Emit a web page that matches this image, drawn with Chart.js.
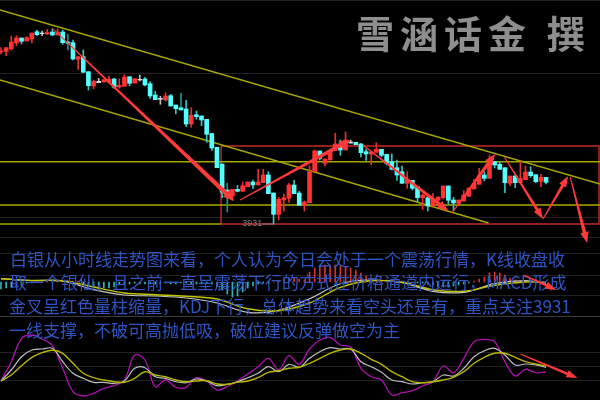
<!DOCTYPE html>
<html><head><meta charset="utf-8">
<style>html,body{margin:0;padding:0;background:#000}canvas{display:block}</style>
<script src="https://cdn.jsdelivr.net/npm/chart.js@4"></script></head>
<body><canvas id="c" width="600" height="400"></canvas>
<script>
const opens=[4103,4103.7,4106,4112,4117,4114,4116,4123.3,4122,4121,4123,4120,4123,4113,4112.3,4095.7,4098.3,4083.3,4069,4073.7,4073,4073,4076,4068,4068.7,4078.3,4072,4075.7,4076,4071.3,4060,4056.7,4055,4059.3,4050,4047.3,4046,4031,4040.3,4039,4035.7,4021.5,4007.7,3991,3965,3959,3965.7,3963.7,3968.3,3973,3970,3972.3,3980,3962,3940.7,3955,3956.7,3970,3962,3949.7,3952.3,3983.3,4004,3991.7,3995,4004.3,4011,4005,4013,4012.7,4011,4003.3,4001,4002.7,4005.7,4000.7,3993.3,3987.3,3983.3,3971.7,3974.7,3968.3,3957.3,3957.3,3949,3954.7,3957.3,3969,3955,3951.7,3954,3958.7,3966,3970.7,3980,3976.7,3993.3,3990.7,3987.3,3971.7,3979,3972.3,3975.3,3983,3980.3,3973.7,3977.7];
const closes=[4104,4107.3,4113,4117,4113.7,4117.3,4122,4120.3,4121.3,4122.5,4120,4123,4112.3,4111.7,4096,4098.3,4082.7,4069.3,4073.7,4072.3,4075.3,4075.7,4067.7,4069.7,4078,4071.7,4076.3,4075,4070,4059,4055.3,4055.7,4059,4049,4046.3,4045,4031,4039.7,4038.3,4035,4020.7,4007,3987.3,3962.7,3960,3965.7,3963.7,3969.3,3973,3970,3973,3980,3961.3,3940.7,3955.7,3957.3,3970,3961.3,3949.7,3953,3983.3,4004,3996.7,3996,4004.7,4011,4005,4015,4012,4010.3,4002.3,4001,4003,4005.7,3999.7,3991.7,3985.7,3980,3971.7,3975,3966.7,3957.3,3960,3949,3956,3958,3969,3954.7,3952,3955,3960,3967,3971.7,3979.3,3976.7,3993.3,3990,3985.7,3972.3,3979,3972.3,3976.7,3983,3979.3,3973.3,3977.7,3972.7];
const highs=[4107.3,4107.3,4119,4119.3,4117,4118.3,4122,4125,4124,4125.7,4126,4126,4125,4121,4115,4098.3,4105,4083.3,4075,4076.7,4075.3,4079,4076.7,4076,4080.3,4078.3,4076.3,4080,4077.7,4073.3,4063.7,4058.7,4062.3,4060.7,4050,4061.7,4054.7,4047.3,4044,4039,4035.7,4021.5,4007.7,3991,3971.7,3965.7,3969.7,3973,3973,3975,3985.7,3985.7,3983.3,3962,3957.7,3961,3971.7,3974.7,3963.7,3954,3989.3,4005,4004,3996,4004.7,4021.7,4015,4023,4015,4012.7,4011.7,4006,4003,4012.3,4005.7,4000.7,4001,3995,3989,3983.3,3974.7,3968.3,3961,3961,3961.7,3958,3969,3969,3957.7,3955,3964.3,3967,3975.7,3986.7,3983.3,4000,3993.3,3993.3,3987.3,3979,3980,3993.3,3989,3988.3,3980.3,3980.7,3977.7];
const lows=[4101,4099.3,4105,4109.3,4111,4114,4112,4119,4119.3,4120.3,4119.3,4120,4110.7,4105,4095,4085.7,4082.7,4065,4066.3,4072.3,4073,4071.7,4066.7,4066.7,4068.7,4069.3,4072,4074,4069,4056.7,4055.3,4050.7,4054,4049,4041,4045,4028.3,4027.7,4035.7,4029.3,4012.7,4004.5,3987.3,3957.3,3943,3955,3963,3963.7,3968.3,3966.3,3970,3972.3,3961.3,3931,3935,3944,3952.7,3961.3,3949.7,3944,3952.3,3983.3,3995,3989,3995,4004.3,3999.7,4005,4011.7,4010.3,3998,3994.7,3990,4002.7,3998.3,3990,3985,3974.7,3971.7,3966.7,3965,3953.3,3945.7,3944,3949,3953.3,3956,3951,3944.3,3950,3954,3958.7,3966,3970.7,3974.3,3976.7,3987,3985.7,3962.3,3969.3,3967.3,3971.7,3975.3,3977.7,3972.3,3968.3,3971];
const dojiCandles=[8,19,27,31,68];
const darkWickCandles=[13,35,44];
const macdHist=[-7,-6,-5,-5,-4,-1,-1,0,1,1,2,2,1,1,1,1,-2,-5,-6,-7,-6,-6,-5,-2,-2,-2,-1,-2,-2,-2,-2,-2,-1,-2,-2,-1,-1,-2,-2,-2,-1,-2,-4,-8,-12,-15,-14,-10,-6,-4,-2,-1,-1,0,1,3,4,4,3,2,10,14,16,17,17,17,16,15,14,12,9,6,4,3,2,2,1,1,1,0,0,-1,-1,-2,-3,-5,-5,-5,-4,-3,-2,-1,1,3,5,9,10,9,7,4,2,1,1,0,0,0,0];
const macdIndex=[0,6,12,18,24,30,36,42,48,54,60,66,72,78,84,90,96,102,106];
const macdDea=[3.3,1.5,1.3,-5,-11,-12.7,-14.3,-17,-26.7,-28.7,-21,-5.3,1.3,-0.3,-7.7,-9.3,-3.3,0,-0.3];
const macdDif=[3.3,1.5,1,-7.7,-13,-14,-16,-21,-30.3,-28.3,-16.7,-1.7,2,-0.7,-9.3,-10.3,-1.7,1.3,-1.7];
const kdjIndex=[0,2,4,6,8,10,12,14,16,18,20,22,24,26,28,30,32,34,36,38,40,42,44,46,48,50,52,54,56,58,60,62,64,66,68,70,72,74,76,78,80,82,84,86,88,90,92,94,96,98,100,102,104,106];
const kdjJ=[38,76.6,123.4,130,122,108.6,63.4,16.6,8,13.4,23.4,28.6,40,90,80,26.6,40,25.4,25.4,44.6,38,20,26.6,38,52,66.6,83.4,60,88.6,71.4,102,120,125.4,110,106,63.4,46.6,40,10,14.6,18.6,28,36.6,68,54.6,83.4,116.6,121.4,116.6,76.6,48,61.4,54.6,56];
const kdjK=[38,60,86.6,100,102,103.4,76.6,53.4,43.4,35.4,35.4,33.4,38,63.4,64.6,46.6,43.4,36.6,34.6,42,38,28.6,31.4,36.6,44.6,53.4,66.6,56.6,71.4,65.4,83.4,96.6,104.6,102,102,76.6,66.6,55.4,40,36.6,32,34.6,36.6,50,48,63.4,86.6,98.6,103.4,90,70,72,70,65.4];
const kdjD=[38,50,68.6,85.4,94.6,99.4,93.4,73.4,53.4,44.6,40,36.6,35.4,43.4,56.6,50,46.6,40,36.6,38,38.6,32,31.4,35.4,38,44.6,55.4,58.6,63.4,65.4,73.4,83.4,93.4,100,102,93.4,81.4,71.4,56.6,46.6,36.6,34.6,36.6,40,45.4,56.6,73.4,85.4,93.4,93.4,85.4,76.6,72,68];
const gridLevels=[4154,4082,3937,3918,3902,3880,3860,3839,3803,3789,3775];
const separatorLevel=3839;
const channelUpper=[[-0.2,4145],[116.5,3971]];
const channelLower=[[-0.2,4075],[94.8,3932]];
const supportLevels=[3993.3,3950];
const supportShort=[[-0.2,3931],[42.8,3931]];
const rangeBox=[[42.8,4009],[116.3,4009],[116.3,3931],[42.8,3931],[42.8,4009]];
const lowMarker=[[50.8,3931],[52.9,3931]];
const arrows=[
 [[9.92,4127],[45.33,3954],4.5],
 [[46.5,3955],[67.9,4015],4],
 [[70.4,4010],[87,3944],3.5],
 [[87.7,3942],[96.1,4001],3.5],
 [[97.9,3998],[105.4,3936],3],
 [[105.4,3936],[110.3,3979],3],
 [[110.7,3978],[114,3912],3.5],
 [[101,3801],[112.1,3777],2.5],
 [[101.6,3880],[108,3865],2.5]
];
const watermark="雪涵话金 撰";
const lowLabel="3931";
const noteLines=[
 "白银从小时线走势图来看，个人认为今日会处于一个震荡行情，K线收盘收",
 "取一个银仙，且之前一直呈震荡下行的方式在价格通道内运行，MACD形成",
 "金叉呈红色量柱缩量，KDJ下行，总体趋势来看空头还是有，重点关注3931",
 "一线支撑，不破可高抛低吸，破位建议反弹做空为主"
];
const noteYs=[260,283,307,331];

const pts=a=>a.map(p=>({x:p[0],y:p[1]}));
const upColor='#ff3333',downColor='#55ffff',dojiColor='#d8d8d8';
const kind=i=>dojiCandles.includes(i)?'d':(closes[i]>=opens[i]?'u':'c');
const bodyColors=opens.map((_,i)=>({d:dojiColor,u:upColor,c:downColor})[kind(i)]);
const wickColors=opens.map((_,i)=>darkWickCandles.includes(i)?'#1f8f8f':({d:'#bbbbbb',u:'#e82e2e',c:'#35c4c4'})[kind(i)]);
const olive='#a8a800';
const lineDs=(data,color,width,order,axis='yPrice',extra={})=>Object.assign({type:'line',data,borderColor:color,borderWidth:width,pointRadius:0,order,yAxisID:axis,tension:0},extra);

const overlay={id:'overlay',afterDatasetsDraw(chart){
  const c=chart.ctx,x=chart.scales.x,y=chart.scales.yPrice;
  c.save();
  c.textBaseline='middle';c.textAlign='left';
  c.fillStyle='#8e8e8e';c.font='bold 38px "Noto Sans CJK SC"';c.letterSpacing='6px';
  c.fillText(watermark,356,34);
  c.letterSpacing='0px';
  c.fillStyle='#2f55c4';c.font='17px "Noto Sans CJK SC"';
  noteLines.forEach((t,i)=>c.fillText(t,i<2?10:9,noteYs[i]));
  c.fillStyle='#808080';c.font='9px "Liberation Sans"';
  c.fillText(lowLabel,x.getPixelForValue(46.9),y.getPixelForValue(3931));
  arrows.forEach(a=>{
    const x0=x.getPixelForValue(a[0][0]),y0=y.getPixelForValue(a[0][1]);
    const x1=x.getPixelForValue(a[1][0]),y1=y.getPixelForValue(a[1][1]);
    const w=a[2],L=Math.hypot(x1-x0,y1-y0),ux=(x1-x0)/L,uy=(y1-y0)/L,nx=-uy,ny=ux,h=Math.min(11,L/3);
    const bx=x1-ux*h,by=y1-uy*h;
    c.fillStyle='#ff3a3a';c.beginPath();
    c.moveTo(x0+nx*.5,y0+ny*.5);c.lineTo(bx+nx*w/2,by+ny*w/2);c.lineTo(bx+nx*(w/2+2.5),by+ny*(w/2+2.5));
    c.lineTo(x1,y1);
    c.lineTo(bx-nx*(w/2+2.5),by-ny*(w/2+2.5));c.lineTo(bx-nx*w/2,by-ny*w/2);c.lineTo(x0-nx*.5,y0-ny*.5);
    c.closePath();c.fill();
  });
  c.restore();
}};

new Chart(document.getElementById('c'),{
 type:'bar',
 data:{datasets:[
  {type:'bar',data:opens.map((o,i)=>({x:i,y:[o,closes[i]]})),backgroundColor:bodyColors,barThickness:4,grouped:false,order:1,yAxisID:'yPrice'},
  {type:'bar',data:opens.map((o,i)=>({x:i,y:[lows[i],highs[i]]})),backgroundColor:wickColors,barThickness:1,grouped:false,order:2,yAxisID:'yPrice'},
  lineDs(pts(lowMarker),'#808080',1,3),
  lineDs(pts(channelUpper),olive,1.4,4),
  lineDs(pts(channelLower),olive,1.4,4),
  lineDs(pts(rangeBox),'#c42a2a',1.4,6),
  lineDs(pts(supportShort),olive,1.4,5),
  ...supportLevels.map(v=>lineDs([{x:-0.2,y:v},{x:116.5,y:v}],olive,1.4,5)),
  {type:'bar',data:macdHist.map((h,i)=>({x:i,y:[0,h]})),backgroundColor:macdHist.map(h=>h>=0?'#d83030':'#2fb5b5'),barThickness:1,grouped:false,order:9,yAxisID:'yMacd'},
  lineDs(macdDif.map((v,i)=>({x:macdIndex[i],y:v})),'#c8c8c8',1.2,8,'yMacd',{tension:.35}),
  lineDs(macdDea.map((v,i)=>({x:macdIndex[i],y:v})),'#c4c400',1.4,7,'yMacd',{tension:.35}),
  lineDs(kdjJ.map((v,i)=>({x:kdjIndex[i],y:v})),'#b010b0',1.3,12,'yKdj',{tension:.35}),
  lineDs(kdjK.map((v,i)=>({x:kdjIndex[i],y:v})),'#c0c0c0',1.2,11,'yKdj',{tension:.35}),
  lineDs(kdjD.map((v,i)=>({x:kdjIndex[i],y:v})),'#b8b800',1.4,10,'yKdj',{tension:.35})
 ]},
 options:{
  responsive:false,animation:false,
  layout:{padding:0},
  parsing:{xAxisKey:'x',yAxisKey:'y'},
  plugins:{legend:{display:false},tooltip:{enabled:false},title:{display:false}},
  scales:{
   x:{type:'linear',min:-0.1945,max:116.49,display:false,offset:false},
   yPrice:{type:'linear',min:3755,max:4155,position:'left',display:true,
     afterBuildTicks:a=>{a.ticks=gridLevels.map(value=>({value}));},
     ticks:{display:false},border:{display:false},
     grid:{drawTicks:false,lineWidth:1,color:c=>c.tick&&c.tick.value===separatorLevel?'#3c3c3c':'#222222'},
     afterFit:a=>{a.width=0;}},
   yMacd:{type:'linear',min:-118,max:282,display:false},
   yKdj:{type:'linear',min:0,max:800,display:false}
  }
 },
 plugins:[overlay,{id:'bg',beforeDraw(ch){ch.ctx.fillStyle='#000';ch.ctx.fillRect(0,0,600,400);}}]
});
</script></body></html>
